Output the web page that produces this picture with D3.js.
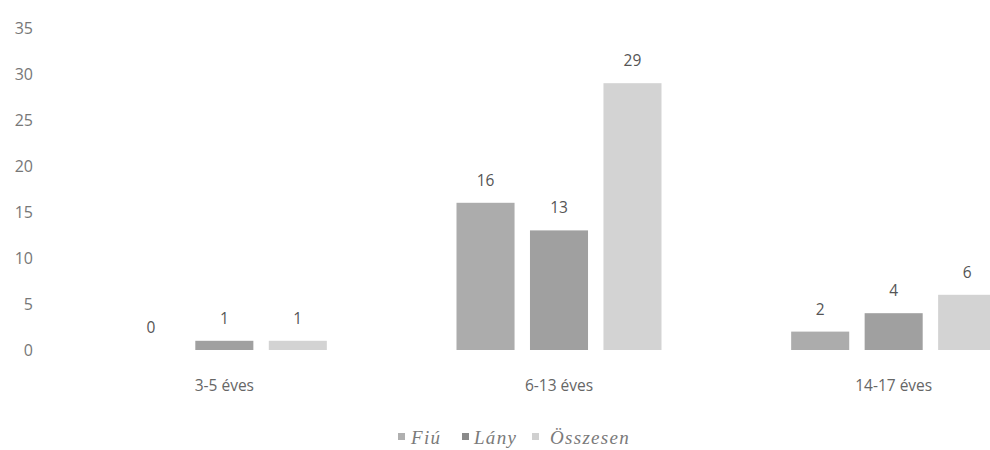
<!DOCTYPE html>
<html><head><meta charset="utf-8">
<script src="https://cdn.jsdelivr.net/npm/d3@7"></script>
<style>
html,body{margin:0;padding:0;background:#fff;overflow:hidden;}
svg{display:block;}
</style></head>
<body>
<svg id="chart" width="990" height="450"></svg>
<script>
const categories = ["3-5 éves", "6-13 éves", "14-17 éves"];
const seriesNames = ["Fiú", "Lány", "Összesen"];
const fiu = [0, 16, 2];
const lany = [1, 13, 4];
const osszesen = [1, 29, 6];
const yTicks = [0, 5, 10, 15, 20, 25, 30, 35];
const colors = ["#acacac", "#a0a0a0", "#d3d3d3"];

const seriesValues = [fiu, lany, osszesen];
const svg = d3.select("#chart");
const font = "'Open Sans', 'Noto Sans', sans-serif";

const baseY = 350, topY = 28;
const y = d3.scaleLinear().domain([0, 35]).range([baseY, topY]);
const x = d3.scaleBand().domain(categories).range([57, 1061]).padding(0);
const halfGroup = 102.5;
const xs = d3.scaleBand().domain(seriesNames).range([-halfGroup, halfGroup]).paddingInner(0.21).paddingOuter(0);

// y axis labels
const yAxis = d3.axisLeft(y).tickValues(yTicks).tickSize(0).tickPadding(0);
const ya = svg.append("g").attr("transform", "translate(33,0)").call(yAxis);
ya.select(".domain").remove();
ya.selectAll("text").attr("font-family", font)
  .attr("font-size", 16).attr("fill", "#777");

// category axis labels
const xAxis = d3.axisBottom(x).tickSize(0).tickPadding(0);
const xa = svg.append("g").attr("transform", "translate(0,380)").call(xAxis);
xa.select(".domain").remove();
xa.selectAll("text").attr("font-family", font)
  .attr("font-size", 15.5).attr("fill", "#666").attr("dy", "0.71em");

// bars
const groups = svg.selectAll("g.cat").data(categories).enter().append("g")
  .attr("class", "cat")
  .attr("transform", d => `translate(${x(d) + x.bandwidth() / 2},0)`);

seriesNames.forEach((s, si) => {
  groups.append("rect")
    .attr("x", xs(s))
    .attr("width", xs.bandwidth())
    .attr("y", (d, ci) => y(seriesValues[si][ci]))
    .attr("height", (d, ci) => baseY - y(seriesValues[si][ci]))
    .attr("fill", colors[si]);
  groups.append("text")
    .attr("x", xs(s) + xs.bandwidth() / 2)
    .attr("y", (d, ci) => y(seriesValues[si][ci]) - 17)
    .attr("text-anchor", "middle")
    .attr("font-family", font)
    .attr("font-size", 15.5).attr("fill", "#555")
    .text((d, ci) => seriesValues[si][ci]);
});

// legend
const legend = svg.append("g").attr("transform", "translate(0,437)");
const legX = [398, 462, 532];
const legTextX = [411, 474, 550];
seriesNames.forEach((s, i) => {
  legend.append("rect").attr("x", legX[i]).attr("y", -4).attr("width", 7).attr("height", 7).attr("fill", i === 1 ? "#8a8a8a" : (i === 0 ? "#b0b0b0" : "#d0d0d0"));
  legend.append("text").attr("x", legTextX[i]).attr("y", 0).attr("dy", "0.35em")
    .attr("font-family", "'Liberation Serif', 'Times New Roman', serif")
    .attr("font-style", "italic").attr("font-size", 19).attr("letter-spacing", 1.3)
    .attr("fill", "#7a7a7a").text(s);
});
</script>
</body></html>
